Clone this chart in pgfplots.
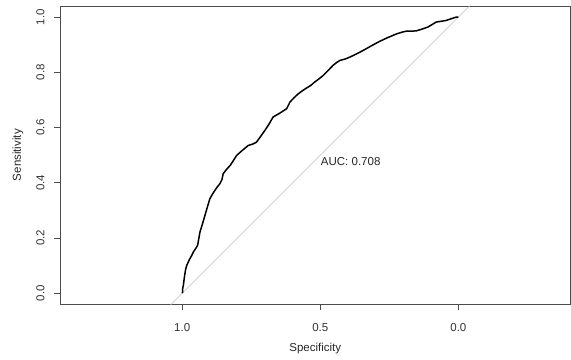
\documentclass[border=0pt]{standalone}
\usepackage{pgfplots}
\pgfplotsset{compat=1.18}
\usepackage{fontspec}
\setmainfont{Liberation Sans}
\begin{document}
\begin{tikzpicture}
\begin{axis}[
  name=ax,
  scale only axis,
  width=510pt, height=298pt,
  x dir=reverse,
  xmin=-0.406, xmax=1.4425,
  ymin=-0.04, ymax=1.04,
  xtick={0,0.5,1}, xticklabels={0.0,0.5,1.0},
  ytick={0,0.2,0.4,0.6,0.8,1}, yticklabels={0.0,0.2,0.4,0.6,0.8,1.0},
  tick align=outside, tick pos=left,
  major tick length=6pt,
  axis line style={black!70, line width=0.9pt},
  every tick/.style={black!70, line width=0.9pt},
  /pgf/number format/assume math mode=true,
  tick label style={font=\fontsize{11.5}{13}\selectfont, text=black!80},
  xticklabel style={anchor=north, yshift=-10pt},
  yticklabel style={rotate=90, anchor=south, yshift=6pt},
  xlabel={Specificity}, ylabel={Sensitivity},
  label style={font=\fontsize{11.5}{13}\selectfont, text=black!85},
  xlabel style={at={([yshift=-44pt]axis description cs:0.5,0)}, anchor=center},
  ylabel style={at={([xshift=-42pt]axis description cs:0,0.5)}, anchor=center},
  clip=true,
]
\addplot[black!25, line width=0.6pt] coordinates {(1.1,-0.1) (-0.1,1.1)};
\addplot[black, line width=1.5pt, line join=round] coordinates {
(1.000,0.000) (0.999,0.004) (0.998,0.020) (0.996,0.028) (0.992,0.060) (0.988,0.085)
(0.984,0.100) (0.975,0.120) (0.966,0.136) (0.958,0.152) (0.948,0.167) (0.944,0.175)
(0.936,0.221) (0.927,0.250) (0.918,0.281) (0.909,0.312) (0.900,0.342) (0.891,0.358)
(0.882,0.372) (0.873,0.385) (0.864,0.396) (0.856,0.412) (0.852,0.432) (0.840,0.448)
(0.827,0.462) (0.815,0.480) (0.803,0.499) (0.785,0.515) (0.761,0.535) (0.745,0.540)
(0.731,0.547) (0.716,0.568) (0.701,0.589) (0.686,0.612) (0.671,0.638) (0.650,0.650)
(0.622,0.668) (0.615,0.682) (0.610,0.692) (0.595,0.708) (0.580,0.722) (0.565,0.733)
(0.550,0.743) (0.535,0.752) (0.520,0.765) (0.505,0.776) (0.490,0.788) (0.472,0.806)
(0.454,0.825) (0.440,0.836) (0.429,0.843) (0.410,0.848) (0.393,0.855) (0.370,0.866)
(0.345,0.879) (0.315,0.896) (0.285,0.912) (0.255,0.926) (0.224,0.939) (0.205,0.945)
(0.188,0.949) (0.170,0.949) (0.152,0.950) (0.130,0.957) (0.110,0.964) (0.095,0.973)
(0.080,0.982) (0.060,0.985) (0.043,0.988) (0.025,0.994) (0.007,1.000) (0.000,1.000)
};
\node[font=\fontsize{11.5}{13}\selectfont, text=black!85] at (axis cs:0.39,0.476) {AUC: 0.708};
\end{axis}
\pgfresetboundingbox
\path ([shift={(-60pt,-55pt)}]ax.south west) rectangle ([shift={(0.5pt,6pt)}]ax.north east);
\end{tikzpicture}
\end{document}
